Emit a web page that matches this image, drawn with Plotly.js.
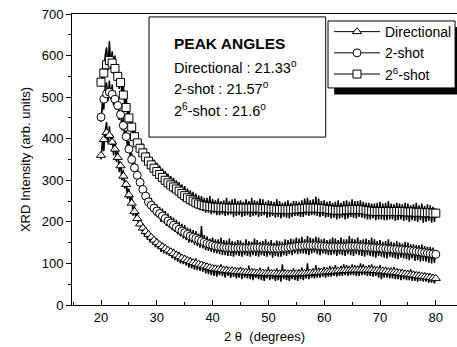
<!DOCTYPE html>
<html>
<head>
<meta charset="utf-8">
<script src="https://cdn.plot.ly/plotly-3.0.1.min.js"></script>
<style>html,body{margin:0;padding:0;background:#fff;}#chart{width:457px;height:347px;}</style>
</head>
<body>
<div id="chart"></div>
<script>
// Angle grid (2 theta, degrees)
const angleStart = 20;
const markerStep = 0.5;   // spacing of plotted symbols
const rawStep = 0.25;     // spacing of raw (noisy) scan points

const seriesNames = ["Directional", "2-shot", "2<sup>6</sup>-shot"];
const seriesSymbols = ["triangle-up", "circle", "square"];

// Smoothed values where the symbols sit (20 .. 80, step 0.5)
const directionalMarks = [
360,398,415,408,392,375,355,335,310,290,265,245,225,208,195,185,177,170,163,156,
150,145,140,136,132,128,124,120,116,113,110,107,104,102,100,98,96,94,92,90,
88,87,86,85,84,83,82,82,81,80,80,79,79,78,78,78,77,77,77,76,
76,76,76,75,75,75,75,75,75,75,75,75,76,76,76,77,77,78,78,79,
79,80,80,81,81,82,82,83,83,83,84,84,84,84,84,84,84,84,83,83,
82,82,81,80,79,79,78,77,76,75,74,73,72,71,70,69,68,67,66,65,
64];
const twoShotMarks = [
452,495,508,512,507,495,480,458,432,405,375,350,330,312,295,278,262,248,240,233,
226,220,214,208,202,197,192,187,182,178,174,170,166,163,160,157,154,151,148,146,
144,142,141,140,139,138,138,137,137,137,137,137,137,137,138,138,138,138,137,137,
137,136,136,136,136,137,137,138,139,140,141,142,142,143,143,143,143,143,142,142,
141,141,140,140,140,140,140,140,140,141,141,141,141,140,140,139,139,138,138,137,
137,136,136,135,135,134,134,133,133,132,132,131,130,129,128,127,126,125,124,123,
122];
const sixShotMarks = [
536,558,578,588,582,569,550,535,505,475,450,428,405,390,377,366,356,346,337,329,
321,314,307,300,294,289,284,279,274,268,263,258,254,250,246,243,241,239,238,237,
236,235,235,234,234,234,233,233,233,233,233,233,233,233,233,233,233,233,232,232,
232,231,231,230,230,230,230,230,230,230,231,231,232,232,233,233,233,233,233,232,
232,231,230,229,228,228,228,228,229,229,230,230,230,230,229,228,227,226,225,225,
225,225,225,225,225,225,225,225,225,225,224,224,224,223,223,223,222,222,222,221,
221];

// Raw noisy scan values (20 .. 80, step 0.25)
const directionalRaw = [
350,395,370,420, 440,390,430,385, 410,360,395,345, 370,320,345,300, 325,280,300,255,
280,240,262,215, 238,205,222,190, 205,178,196,168, 188,160,180,152, 172,148,165,140,
160,135,152,128, 150,124,145,122, 140,118,137,112, 135,108,130,104, 128,100,122,98,
120,95,116,90, 114,88,110,85, 112,84,106,82, 105,80,102,76, 100,74,98,72,
96,70,95,68, 92,72,98,70, 90,66,94,70, 88,65,92,68, 90,64,86,66,
92,62,88,66, 86,64,95,62, 88,60,84,65, 84,62,90,60, 86,58,82,64,
92,60,84,62, 82,58,88,60, 84,56,98,62, 86,60,82,58, 84,62,88,60,
82,58,86,62, 90,60,84,64, 100,62,86,66, 88,64,96,66, 90,66,88,68,
92,66,90,68, 94,68,92,70, 96,68,90,70, 94,70,98,72, 96,70,94,72,
98,72,96,70, 95,70,100,72, 98,72,94,70, 96,70,98,68, 94,70,92,66,
96,62,90,66, 92,66,88,64, 90,64,92,62, 88,62,86,60, 86,62,84,60,
84,60,86,58, 82,58,80,56, 80,58,78,56, 78,56,76,54, 76,54,74,52,
68];
const twoShotRaw = [
440,490,470,525, 535,490,540,495, 530,480,515,470, 500,445,470,420, 450,400,420,375,
395,350,365,325, 345,310,330,295, 310,275,292,258, 280,245,268,232, 258,225,248,215,
242,210,236,200, 232,198,226,190, 220,186,214,180, 210,176,205,170, 200,165,195,160,
192,156,186,150, 184,150,180,145, 178,142,172,138, 190,136,168,132, 165,130,160,128,
162,126,158,124, 158,122,162,120, 156,120,155,118, 160,118,154,116, 152,120,156,118,
155,116,150,120, 158,118,154,116, 152,120,160,118, 156,116,152,120, 154,118,158,116,
152,120,156,114, 150,118,155,116, 154,116,152,120, 158,118,156,122, 160,120,158,124,
162,122,160,124, 164,124,158,122, 166,120,162,124, 160,126,164,122, 162,120,158,124,
160,122,156,120, 158,120,162,122, 160,118,156,122, 162,120,158,118, 158,122,166,120,
160,118,158,122, 162,120,156,118, 158,116,160,120, 156,118,162,116, 158,114,154,118,
156,116,152,114, 154,112,158,116, 152,114,150,112, 154,110,150,114, 148,112,152,110,
150,108,146,112, 146,106,144,108, 144,104,146,106, 142,104,140,102, 140,100,138,102,
128];
const sixShotRaw = [
525,570,545,600, 620,565,635,570, 610,555,600,545, 575,520,560,505, 530,480,505,455,
475,430,455,410, 425,388,410,372, 398,362,388,350, 376,342,368,330, 356,322,350,312,
342,305,336,296, 328,292,322,285, 316,280,310,272, 306,270,300,262, 296,258,290,250,
286,248,280,242, 276,240,272,236, 268,232,264,228, 262,226,258,222, 258,222,262,218,
255,220,252,216, 256,216,250,218, 252,214,258,216, 250,218,254,212, 256,214,250,216,
252,212,248,214, 254,216,250,212, 258,214,252,216, 250,212,256,214, 254,216,248,210,
252,212,250,214, 248,210,254,212, 250,208,246,212, 248,210,252,208, 246,212,250,214,
250,214,248,212, 252,212,256,216, 258,214,252,216, 254,216,260,214, 256,212,250,214,
252,210,248,212, 250,208,246,210, 248,206,252,208, 246,210,250,206, 252,208,248,212,
254,210,250,208, 250,212,252,210, 248,208,246,206, 246,206,244,208, 244,204,246,206,
248,206,244,204, 246,204,250,206, 244,206,242,202, 246,204,244,206, 242,202,246,204,
244,200,240,204, 242,202,246,200, 240,204,244,198, 238,200,242,202, 240,198,236,200,
226];

const xTickVals = [20,30,40,50,60,70,80];
const yTickVals = [0,100,200,300,400,500,600,700];

function grid(n, step){ const a=[]; for(let i=0;i<n;i++) a.push(angleStart+i*step); return a; }

const rawSets = [directionalRaw, twoShotRaw, sixShotRaw];
const markSets = [directionalMarks, twoShotMarks, sixShotMarks];

const traces = [];
rawSets.forEach(function(r){
  traces.push({x: grid(r.length, rawStep), y: r, type:'scatter', mode:'lines',
    line:{color:'#000', width:1.5}, showlegend:false, hoverinfo:'skip'});
});
markSets.forEach(function(m, i){
  traces.push({x: grid(m.length, markerStep), y: m, type:'scatter', mode:'lines+markers',
    name: seriesNames[i],
    line:{color:'#000', width:1},
    marker:{symbol: seriesSymbols[i], size:8, color:'#fff', line:{color:'#000', width:1}}});
});

const font = {family:'"Liberation Sans", Arial, sans-serif', color:'#000'};
const layout = {
  width:457, height:347,
  margin:{l:72, r:0, t:14, b:42},
  paper_bgcolor:'#fff', plot_bgcolor:'#fff',
  font: Object.assign({size:13}, font),
  showlegend:true,
  legend:{x:0.668, y:0.993, xanchor:'left', yanchor:'top', bgcolor:'rgba(0,0,0,0)',
    borderwidth:0, font:Object.assign({size:14}, font),
    tracegroupgap:0, itemwidth:46},
  xaxis:{range:[14.8,83.8], tickvals:xTickVals, ticktext:xTickVals.map(String),
    ticks:'inside', ticklen:5, tickwidth:1, tickcolor:'#000',
    minor:{dtick:5, ticks:'inside', ticklen:3, tickcolor:'#000', showgrid:false},
    showline:true, linecolor:'#000', linewidth:1, mirror:true, showgrid:false, zeroline:false,
    tickfont:Object.assign({size:13}, font),
    title:{text:'2 \u03b8  (degrees)', font:Object.assign({size:13}, font), standoff:8}},
  yaxis:{range:[0,700], tickvals:yTickVals, ticktext:yTickVals.map(String),
    ticks:'outside', ticklen:5, tickwidth:1, tickcolor:'#000',
    minor:{dtick:50, ticks:'outside', ticklen:3, tickcolor:'#000', showgrid:false},
    showline:true, linecolor:'#000', linewidth:1, showgrid:false, zeroline:false,
    tickfont:Object.assign({size:13}, font),
    title:{text:'XRD Intensity (arb. units)', font:Object.assign({size:13}, font), standoff:8}},
  shapes:[
    {type:'rect', xref:'paper', yref:'paper', x0:0.2, x1:0.659, y0:0.577, y1:0.99,
      line:{color:'#000', width:1}, fillcolor:'#fff', layer:'above'},
    // drop shadow of the legend box (drawn as thick lines)
    {type:'line', xref:'paper', yref:'paper', x0:0.681, x1:1.02, y0:0.735, y1:0.735,
      line:{color:'#000', width:7}, layer:'above'},
    {type:'line', xref:'paper', yref:'paper', x0:1.0, x1:1.0, y0:0.735, y1:0.955,
      line:{color:'#000', width:7}, layer:'above'},
    {type:'rect', xref:'paper', yref:'paper', x0:0.665, x1:0.995, y0:0.746, y1:0.976,
      line:{color:'#000', width:1}, fillcolor:'#fff', layer:'above'}
  ],
  annotations:[
    {xref:'paper', yref:'paper', x:0.26, y:0.900, xanchor:'left', yanchor:'middle', showarrow:false,
      text:'<b>PEAK ANGLES</b>', font:Object.assign({size:15.5}, font)},
    {xref:'paper', yref:'paper', x:0.26, y:0.818, xanchor:'left', yanchor:'middle', showarrow:false,
      text:'Directional : 21.33<sup>o</sup>', font:Object.assign({size:14.5}, font)},
    {xref:'paper', yref:'paper', x:0.26, y:0.746, xanchor:'left', yanchor:'middle', showarrow:false,
      text:'2-shot : 21.57<sup>o</sup>', font:Object.assign({size:14.5}, font)},
    {xref:'paper', yref:'paper', x:0.26, y:0.670, xanchor:'left', yanchor:'middle', showarrow:false,
      text:'2<sup>6</sup>-shot : 21.6<sup>o</sup>', font:Object.assign({size:14.5}, font)}
  ]
};
Plotly.newPlot('chart', traces, layout, {staticPlot:true, displayModeBar:false});
</script>
</body>
</html>
